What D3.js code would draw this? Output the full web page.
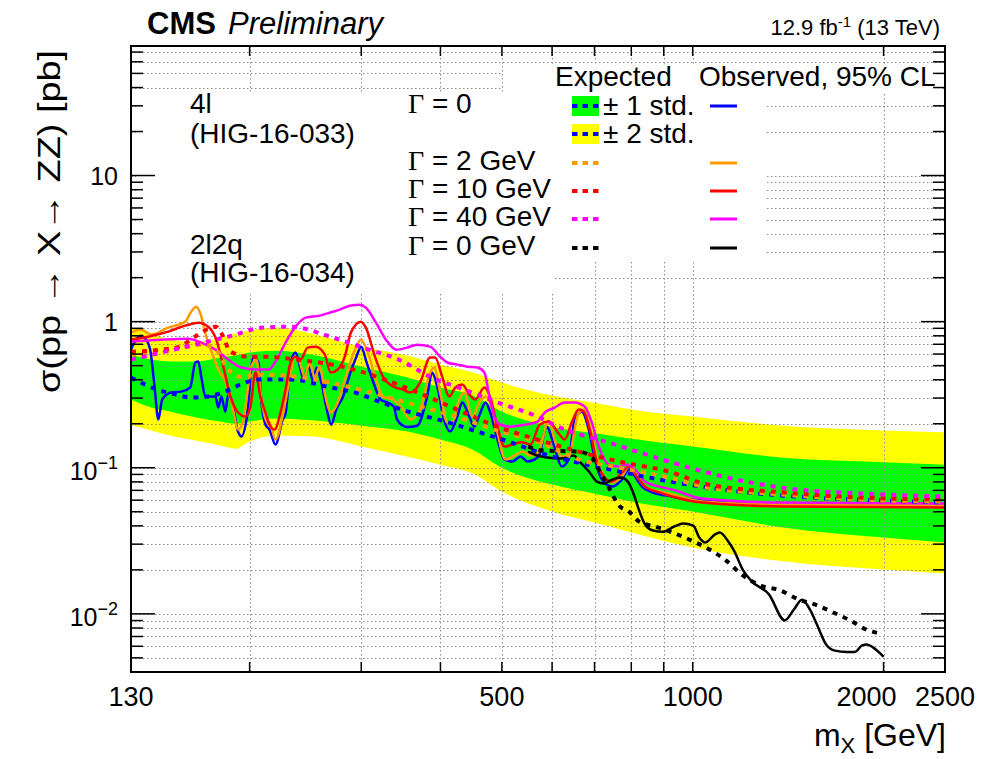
<!DOCTYPE html>
<html>
<head>
<meta charset="utf-8">
<script src="https://cdn.jsdelivr.net/npm/d3@7"></script>
<style>
body { margin: 0; background: #fff; }
text { font-family: "Liberation Sans", Arial, Helvetica, sans-serif; }
</style>
</head>
<body>
<script>
// canvas and frame
const W = 1002, H = 759;
const frame = { left: 131, right: 945, top: 46, bottom: 672 };

// expected band (Gamma = 0), mass in GeV, limits in pb
const bandMass = [130,140,150,165,180,190,200,220,250,300,355,400,450,500,600,710,800,1000,1390,2000,2500];
const band2Up = [0.910,0.828,0.753,0.730,0.777,0.828,0.868,0.910,0.828,0.674,0.586,0.508,0.448,0.383,0.312,0.275,0.250,0.224,0.194,0.180,0.175];
const band1Up = [0.595,0.550,0.533,0.533,0.568,0.586,0.614,0.633,0.595,0.492,0.414,0.354,0.312,0.242,0.191,0.171,0.158,0.140,0.117,0.109,0.105];
const band1Dn = [0.293,0.258,0.242,0.221,0.207,0.200,0.207,0.217,0.211,0.194,0.177,0.156,0.133,0.100,0.0767,0.0656,0.0587,0.0502,0.0390,0.0333,0.0308];
const band2Dn = [0.197,0.180,0.166,0.153,0.142,0.135,0.151,0.166,0.164,0.140,0.119,0.105,0.0912,0.0687,0.0502,0.0416,0.0361,0.0284,0.0229,0.0201,0.0189];

// expected medians
const expMass0 = [130,143,153,162,172,183,195,206,234,264,297,314,356,401,452,512,593,668,754,853,1083,1382,2010,2500];
const expVal0 = [0.414,0.343,0.317,0.302,0.307,0.332,0.377,0.401,0.401,0.360,0.322,0.293,0.242,0.211,0.1796,0.1512,0.1212,0.1069,0.0957,0.0857,0.0720,0.0646,0.0596,0.0578];
const expMass2 = [130,145,159,168,177,184,193,210,237,285,349,436,492,569,661,765,931,1039,1382,2010,2500];
const expVal2 = [0.595,0.623,0.674,0.696,0.643,0.485,0.420,0.434,0.420,0.360,0.284,0.214,0.1796,0.1512,0.1138,0.1003,0.0843,0.0743,0.0656,0.0596,0.0587];
const expMass10 = [130,145,155,164,177,181,186.5,199,210,237,284,349,385,436,492,569,661,765,928,1039,1382,2010,2500];
const expVal10 = [0.623,0.643,0.674,0.789,0.924,0.815,0.623,0.576,0.576,0.550,0.485,0.360,0.302,0.238,0.191,0.1559,0.1290,0.1103,0.0927,0.0780,0.0679,0.0616,0.0606];
const expMass40 = [130,145,164,185,210,232,268,302,349,385,436,492,569,628,719,928,1039,1382,2010,2500];
const expVal40 = [0.550,0.614,0.696,0.789,0.910,0.924,0.789,0.664,0.533,0.420,0.343,0.280,0.224,0.1825,0.1535,0.1086,0.0942,0.0731,0.0656,0.0636];
const expMassHM = [550,580,661,693,711,735,765,793,823,872,928,987,1062,1123,1195,1286,1367,1471,1558,1676,1784,1876,1968];
const expValHM = [0.1396,0.1311,0.1290,0.1174,0.0972,0.0755,0.0551,0.0502,0.0428,0.0396,0.0361,0.0323,0.0276,0.0236,0.0186,0.0155,0.0146,0.01254,0.01159,0.0101,0.00887,0.00782,0.00735];

// observed
const obsMass0 = [130,132.4,134.8,137.3,139.4,141.5,143.6,145.6,150.4,156,161.2,164.2,166,167.8,170.3,176.6,178.5,180.5,183.1,185.1,187.2,192,194.1,197.7,202.8,206.5,208.8,211.9,215,219.7,225.4,228,232,236.3,240.7,243.3,247.7,252.1,254.9,259.5,264.2,269,273.9,280.9,288.4,294.8,300,305.6,313.6,321.8,329.4,337.8,341.6,354.3,367.5,381.1,388.1,395.3,405.5,414.5,425.2,433,444.2,452.3,462.4,471,479.5,492,504.7,519.6,535,548.8,571.3,588.1,605,621.3,637.4,651.2,668.3,685.5,701,718.9,745.6,773,793,810.8,831.8,862.7,927.5,1035,1380,1990,2500];
const obsVal0 = [0.643,0.753,0.802,0.753,0.643,0.371,0.214,0.293,0.327,0.332,0.354,0.525,0.533,0.420,0.307,0.307,0.258,0.307,0.242,0.317,0.293,0.174,0.1635,0.211,0.576,0.525,0.280,0.197,0.1825,0.1441,0.211,0.238,0.508,0.614,0.470,0.401,0.492,0.383,0.485,0.383,0.262,0.197,0.250,0.307,0.448,0.576,0.674,0.533,0.383,0.293,0.280,0.262,0.214,0.190,0.194,0.307,0.448,0.360,0.211,0.177,0.224,0.280,0.224,0.191,0.238,0.280,0.238,0.1559,0.1138,0.1103,0.1193,0.1103,0.1193,0.191,0.1396,0.1019,0.1138,0.214,0.242,0.1825,0.1138,0.0830,0.0743,0.0830,0.0972,0.0871,0.0743,0.0679,0.0636,0.0596,0.0569,0.0560,0.0551];
const obsMass2 = [130,134.8,139.8,148.8,158.3,161.8,164.7,167.1,170.9,175.3,178.5,183.2,187.2,192,195.5,201.3,205,208.8,212.7,215,219.8,225.4,231.2,235.5,239.8,244.3,248.7,253.4,258,263.7,268.6,275.5,283.6,294.2,299.6,307.3,316.5,324.6,336.6,349.2,358.2,371.5,385.3,391,399.6,410,417.5,428.3,436.2,449.1,460.7,470.8,483.1,492,506.5,523.4,538.9,554.8,571.3,592.6,605.7,621.3,637.4,661,673.3,688,706,724.1,745.6,773.3,793.3,810.9,840.9,885,927.9,1035.5,1380,2500];
const obsVal2 = [0.841,0.882,0.815,0.910,1.0,1.170,1.266,1.152,0.789,0.576,0.470,0.389,0.280,0.1825,0.211,0.492,0.550,0.293,0.207,0.204,0.1559,0.224,0.401,0.576,0.533,0.420,0.525,0.414,0.492,0.302,0.238,0.280,0.420,0.664,0.753,0.614,0.401,0.307,0.293,0.250,0.214,0.250,0.448,0.485,0.327,0.204,0.204,0.293,0.327,0.224,0.280,0.307,0.250,0.1741,0.1138,0.1211,0.1290,0.1211,0.1290,0.211,0.1559,0.1193,0.1211,0.238,0.250,0.191,0.1193,0.0871,0.0792,0.0871,0.1019,0.0916,0.0743,0.0687,0.0656,0.0587,0.0560,0.0551];
const obsMass10 = [130,138.3,148.8,158.3,166,172.1,177.2,181.8,186.5,192,197,200.6,204.3,208,211.9,215,219,223.7,227.9,232.1,236.3,240.7,246.9,254.3,262.8,268.6,275.5,282.6,288.9,299.6,305.1,315.3,324.6,336.6,349.2,358.2,371.5,385.3,392.4,402.5,413,422.1,433,444.2,454,469.2,479.5,492,504.7,519.6,537,554.8,573.4,592.6,614.5,628.2,644.4,661,673.3,688,706,724.1,745.6,773.3,793.3,810.9,840.9,885,927.9,1035.5,1380,2500];
const obsVal10 = [0.753,0.789,0.855,0.939,0.984,0.924,0.753,0.492,0.307,0.238,0.224,0.262,0.448,0.307,0.238,0.197,0.1825,0.238,0.343,0.525,0.576,0.550,0.664,0.674,0.595,0.448,0.470,0.576,0.841,1.0,0.910,0.576,0.420,0.360,0.343,0.327,0.383,0.568,0.568,0.420,0.307,0.354,0.371,0.317,0.293,0.354,0.302,0.191,0.1396,0.1441,0.1495,0.1441,0.197,0.207,0.1714,0.1559,0.204,0.250,0.242,0.1825,0.1086,0.0871,0.0804,0.0927,0.1019,0.0898,0.0743,0.0679,0.0636,0.0578,0.0543,0.0535];
const obsMass40 = [130,145,160,167.8,176.6,185.1,194.1,204.3,214.3,219.8,227.9,236.3,245.2,258,267.6,277.5,287.8,298.5,305.1,316.5,328.2,340.3,354.3,367.5,385.3,399.6,410,425.2,441,457.4,469.2,477.8,486.6,497.4,515.8,542.8,569.2,583.9,605.7,628.2,651.4,675.7,693.1,711.1,737.5,764.9,787.5,810.9,840.9,885,927.9,1035.5,1380,2500];
const obsVal40 = [0.730,0.753,0.765,0.718,0.643,0.550,0.485,0.470,0.470,0.533,0.718,0.924,1.065,1.099,1.152,1.208,1.286,1.307,1.246,0.984,0.753,0.643,0.664,0.696,0.674,0.576,0.525,0.508,0.492,0.485,0.448,0.307,0.224,0.197,0.191,0.197,0.207,0.238,0.258,0.280,0.280,0.262,0.204,0.1396,0.1052,0.1019,0.1052,0.0972,0.0804,0.0743,0.0709,0.0616,0.0578,0.0569];
const obsMassHM = [550,569,590,619,649,663,686,706,724,746,771,790,805,820,841,866,898,935,966,1002,1024,1047,1083,1103,1135,1164,1199,1239,1319,1397,1444,1487,1531,1570,1623,1676,1751,1803,1850,1883,1925,1968,2000];
const obsValHM = [0.1290,0.1212,0.1174,0.1155,0.1212,0.1103,0.0942,0.0804,0.0780,0.0830,0.0857,0.0804,0.0679,0.0535,0.0409,0.0372,0.0365,0.0396,0.0415,0.0402,0.0333,0.0308,0.0349,0.0361,0.0318,0.0267,0.0201,0.0167,0.0136,0.00902,0.0107,0.0125,0.0107,0.00846,0.00618,0.00560,0.00549,0.00549,0.00608,0.00618,0.00590,0.00545,0.00508];

// axis labels
const xTickLabels = [130, 500, 1000, 2000, 2500];
const xTicks = [200,300,400,500,600,700,800,900,1000,2000];
const yTickLabels = [
  { v: 10, base: "10", exp: "" },
  { v: 1, base: "1", exp: "" },
  { v: 0.1, base: "10", exp: "\u22121" },
  { v: 0.01, base: "10", exp: "\u22122" }
];

const colors = { g0: "#0000ff", g2: "#ff9900", g10: "#ff0000", g40: "#ff00ff", hm: "#000000" };

const svg = d3.select("body").append("svg").attr("width", W).attr("height", H);
svg.append("rect").attr("width", W).attr("height", H).attr("fill", "#fff");

const x = d3.scaleLog().domain([130, 2500]).range([frame.left, frame.right]);
const y = d3.scaleLog().domain([0.004, 77]).range([frame.bottom, frame.top]);

svg.append("defs").append("clipPath").attr("id", "clip")
  .append("rect").attr("x", frame.left).attr("y", frame.top)
  .attr("width", frame.right - frame.left).attr("height", frame.bottom - frame.top);

const plot = svg.append("g").attr("clip-path", "url(#clip)");

// bands
const band = bandMass.map((m, i) => ({ m, u2: band2Up[i], u1: band1Up[i], d1: band1Dn[i], d2: band2Dn[i] }));
const area = (lo, hi) => d3.area().x(d => x(d.m)).y0(d => y(d[lo])).y1(d => y(d[hi])).curve(d3.curveMonotoneX);
plot.append("path").datum(band).attr("d", area("d2", "u2")).attr("fill", "#ffff00");
plot.append("path").datum(band).attr("d", area("d1", "u1")).attr("fill", "#00ff00");

// grid
const yGrid = [];
for (let e = -3; e <= 1; e++) for (let k = 1; k <= 9; k++) {
  const v = k * Math.pow(10, e);
  if (v > 0.0041 && v < 77) yGrid.push(v);
}
const grid = plot.append("g").attr("stroke", "#8c8c8c").attr("stroke-width", 1).attr("stroke-dasharray", "1.5,2.5");
grid.selectAll(".gy").data(yGrid).enter().append("line")
  .attr("x1", frame.left).attr("x2", frame.right)
  .attr("y1", d => Math.round(y(d)) + 0.5).attr("y2", d => Math.round(y(d)) + 0.5);
grid.selectAll(".gx").data(xTicks).enter().append("line")
  .attr("x1", d => Math.round(x(d)) + 0.5).attr("x2", d => Math.round(x(d)) + 0.5)
  .attr("y1", frame.top).attr("y2", frame.bottom);

// white boxes behind the legend texts
plot.append("rect").attr("x", 503).attr("y", 64).attr("width", 440).attr("height", 30).attr("fill", "#fff");
plot.append("rect").attr("x", 136).attr("y", 94).attr("width", 629).attr("height", 168).attr("fill", "#fff");
plot.append("rect").attr("x", 136).attr("y", 262).attr("width", 417).attr("height", 30).attr("fill", "#fff");

const pts = (ms, vs) => ms.map((m, i) => ({ m, v: vs[i] }));
const line = d3.line().x(d => x(d.m)).y(d => y(d.v)).curve(d3.curveMonotoneX);

// observed
[[obsMass0, obsVal0, colors.g0], [obsMass2, obsVal2, colors.g2], [obsMass10, obsVal10, colors.g10],
 [obsMass40, obsVal40, colors.g40], [obsMassHM, obsValHM, colors.hm]].forEach(s => {
  plot.append("path").datum(pts(s[0], s[1])).attr("d", line)
    .attr("fill", "none").attr("stroke", s[2]).attr("stroke-width", 2.5).attr("stroke-linejoin", "round");
});

// expected
[[expMass0, expVal0, colors.g0], [expMass2, expVal2, colors.g2], [expMass10, expVal10, colors.g10],
 [expMass40, expVal40, colors.g40], [expMassHM, expValHM, colors.hm]].forEach(s => {
  plot.append("path").datum(pts(s[0], s[1])).attr("d", line)
    .attr("fill", "none").attr("stroke", s[2]).attr("stroke-width", 4).attr("stroke-dasharray", "5,6");
});

// frame + ticks
const axes = svg.append("g").attr("stroke", "#000");
const isDecade = d => Math.abs(Math.log10(d) - Math.round(Math.log10(d))) < 1e-6;
axes.selectAll(".tl").data(yGrid).enter().append("line")
  .attr("x1", frame.left).attr("x2", d => frame.left + (isDecade(d) ? 24 : 12))
  .attr("y1", d => y(d)).attr("y2", d => y(d)).attr("stroke-width", 1.5);
axes.selectAll(".tr").data(yGrid).enter().append("line")
  .attr("x1", frame.right).attr("x2", d => frame.right - (isDecade(d) ? 24 : 12))
  .attr("y1", d => y(d)).attr("y2", d => y(d)).attr("stroke-width", 1.5);
axes.selectAll(".tb").data(xTicks).enter().append("line")
  .attr("x1", d => x(d)).attr("x2", d => x(d))
  .attr("y1", frame.bottom).attr("y2", frame.bottom - 10).attr("stroke-width", 1.5);
axes.selectAll(".tt").data(xTicks).enter().append("line")
  .attr("x1", d => x(d)).attr("x2", d => x(d))
  .attr("y1", frame.top).attr("y2", frame.top + 10).attr("stroke-width", 1.5);
svg.append("rect").attr("x", frame.left).attr("y", frame.top)
  .attr("width", frame.right - frame.left).attr("height", frame.bottom - frame.top)
  .attr("fill", "none").attr("stroke", "#000").attr("stroke-width", 2);

// tick labels (the 2000 label sits a bit left so it does not run into 2500)
svg.selectAll(".xl").data(xTickLabels).enter().append("text")
  .attr("x", d => x(d) + (d === 2000 ? -17 : 0)).attr("y", 706).attr("text-anchor", "middle")
  .attr("font-size", 27).text(d => d);
const yl = svg.selectAll(".yl").data(yTickLabels).enter().append("text")
  .attr("x", 118).attr("y", d => y(d.v) + (d.exp ? 12 : 9)).attr("text-anchor", "end").attr("font-size", 25);
yl.append("tspan").text(d => d.base);
yl.filter(d => d.exp).append("tspan").attr("font-size", 18).attr("dy", -11).text(d => d.exp);

// axis titles
svg.append("text").attr("transform", "translate(60,393) rotate(-90)")
  .attr("font-size", 31).attr("textLength", 343).attr("lengthAdjust", "spacingAndGlyphs")
  .text("\u03c3(pp \u2192 X\u2192 ZZ) [pb]");
const xt = svg.append("text").attr("x", 946).attr("y", 746).attr("text-anchor", "end").attr("font-size", 32);
xt.append("tspan").text("m");
xt.append("tspan").attr("font-size", 22).attr("dy", 7).text("X");
xt.append("tspan").attr("dy", -7).text(" [GeV]");

// header
svg.append("text").attr("x", 147).attr("y", 34).attr("font-size", 31).attr("font-weight", "bold").text("CMS");
svg.append("text").attr("x", 228).attr("y", 34).attr("font-size", 31).attr("font-style", "italic").text("Preliminary");
const lumi = svg.append("text").attr("x", 940).attr("y", 35).attr("text-anchor", "end").attr("font-size", 22);
lumi.append("tspan").text("12.9 fb");
lumi.append("tspan").attr("font-size", 15).attr("dy", -8).text("-1");
lumi.append("tspan").attr("dy", 8).text(" (13 TeV)");

// left texts
const leftTexts = [["4l", 113], ["(HIG-16-033)", 143], ["2l2q", 254], ["(HIG-16-034)", 282]];
svg.selectAll(".lt").data(leftTexts).enter().append("text")
  .attr("x", 190).attr("y", d => d[1]).attr("font-size", 28).text(d => d[0]);

// legend
svg.append("text").attr("x", 555).attr("y", 86).attr("font-size", 28).text("Expected");
svg.append("text").attr("x", 699).attr("y", 86).attr("font-size", 28).text("Observed, 95% CL");

const gammaRows = [["0", 113], ["2 GeV", 170], ["10 GeV", 198], ["40 GeV", 226], ["0 GeV", 255]];
const gt = svg.selectAll(".gt").data(gammaRows).enter().append("text")
  .attr("x", 408).attr("y", d => d[1]).attr("font-size", 28);
gt.append("tspan").attr("font-family", "'Liberation Serif', 'Times New Roman', serif").text("\u0393");
gt.append("tspan").text(d => " = " + d[0]);

const lg = svg.append("g");
lg.append("rect").attr("x", 572).attr("y", 96).attr("width", 27).attr("height", 20).attr("fill", "#00ff00");
lg.append("rect").attr("x", 572).attr("y", 124).attr("width", 27).attr("height", 20).attr("fill", "#ffff00");
svg.append("text").attr("x", 603).attr("y", 115).attr("font-size", 28).text("\u00b1 1 std.");
svg.append("text").attr("x", 603).attr("y", 143).attr("font-size", 28).text("\u00b1 2 std.");

const legRows = [
  { yy: 106, c: colors.g0, obs: true },
  { yy: 134, c: colors.g0, obs: false },
  { yy: 163, c: colors.g2, obs: true },
  { yy: 191, c: colors.g10, obs: true },
  { yy: 219, c: colors.g40, obs: true },
  { yy: 248, c: colors.hm, obs: true }
];
legRows.forEach(r => {
  lg.append("line").attr("x1", 572).attr("x2", 599).attr("y1", r.yy).attr("y2", r.yy)
    .attr("stroke", r.c).attr("stroke-width", 4).attr("stroke-dasharray", "5.5,5");
  if (r.obs) lg.append("line").attr("x1", 710).attr("x2", 737).attr("y1", r.yy).attr("y2", r.yy)
    .attr("stroke", r.c).attr("stroke-width", 3);
});
</script>
</body>
</html>
